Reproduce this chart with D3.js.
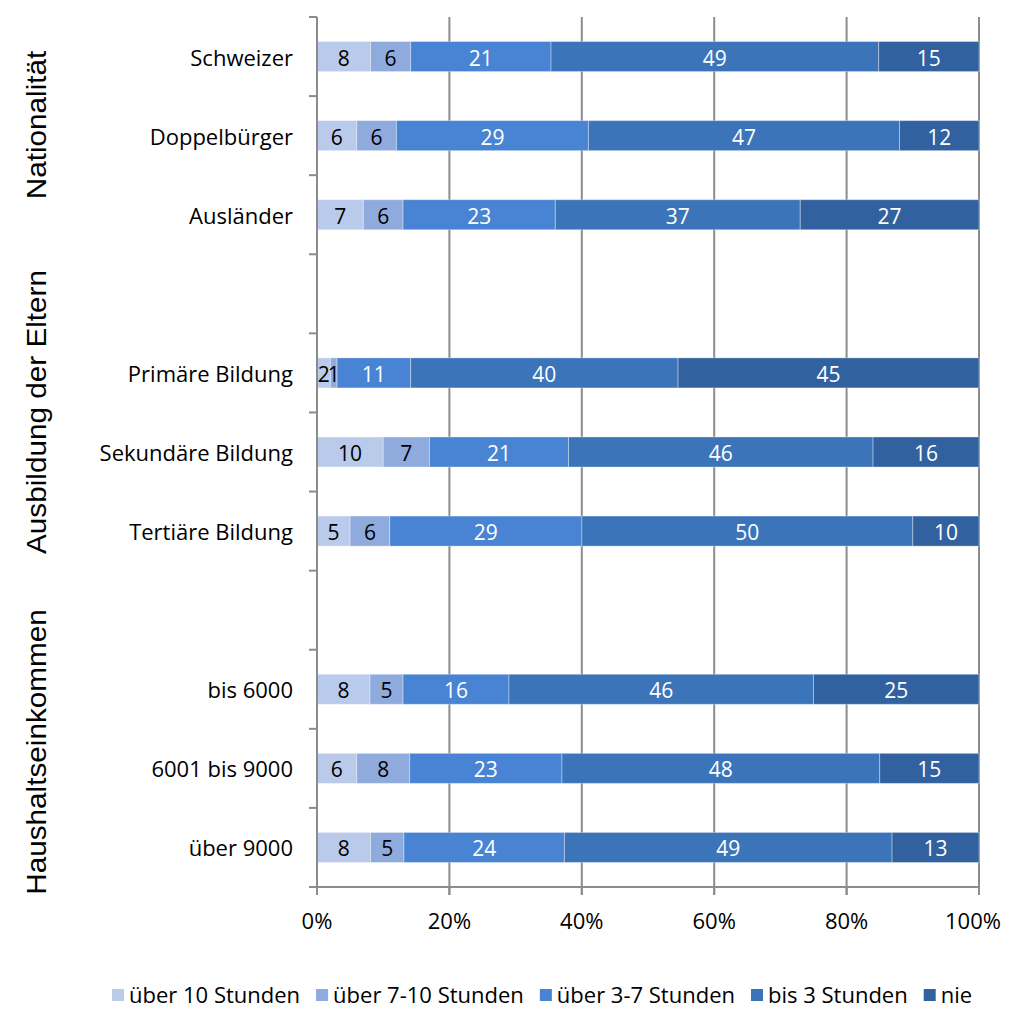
<!DOCTYPE html>
<html>
<head>
<meta charset="utf-8">
<script src="https://cdn.jsdelivr.net/npm/d3@7"></script>
<style>
  html, body { margin: 0; padding: 0; background: #fff; }
  svg { display: block; }
</style>
</head>
<body>
<svg id="chart" width="1009" height="1010"></svg>
<script>
// Row labels in drawing order; empty strings are spacer rows between groups
const categories = [
  "Schweizer", "Doppelbürger", "Ausländer", "",
  "Primäre Bildung", "Sekundäre Bildung", "Tertiäre Bildung", "",
  "bis 6000", "6001 bis 9000", "über 9000"
];

const seriesNames = ["über 10 Stunden", "über 7-10 Stunden", "über 3-7 Stunden", "bis 3 Stunden", "nie"];

// Percent shares per row, one array per series (null = spacer row)
const over10    = [8, 6, 7, null, 2, 10, 5, null, 8, 6, 8];
const over7to10 = [6, 6, 6, null, 1, 7, 6, null, 5, 8, 5];
const over3to7  = [21, 29, 23, null, 11, 21, 29, null, 16, 23, 24];
const upTo3     = [49, 47, 37, null, 40, 46, 50, null, 46, 48, 49];
const never     = [15, 12, 27, null, 45, 16, 10, null, 25, 15, 13];

const groupNames = ["Nationalität", "Ausbildung der Eltern", "Haushaltseinkommen"];
const xTicks = [0, 0.2, 0.4, 0.6, 0.8, 1];

const colors = ["#b9caea", "#8fabdd", "#4884d3", "#3c74ba", "#31619f"];
const labelColors = ["#000", "#000", "#fff", "#fff", "#fff"];

const series = [over10, over7to10, over3to7, upTo3, never];

const svg = d3.select("#chart");
const margin = { left: 317, right: 30, top: 17, bottom: 123 };
const W = 1009, H = 1010;

const x = d3.scaleLinear().domain([0, 1]).range([margin.left, W - margin.right]);
const y = d3.scaleBand().domain(d3.range(categories.length))
  .range([margin.top, H - margin.bottom]).paddingInner(0.62).paddingOuter(0.31);

const stepY = y.step();
const labelFont = "'Open Sans', Lato, sans-serif";
const labelSize = 22;
const valueSize = 21;

// vertical gridlines
svg.append("g").selectAll("line").data(xTicks.slice(1)).join("line")
  .attr("x1", d => x(d)).attr("x2", d => x(d))
  .attr("y1", margin.top).attr("y2", H - margin.bottom + 8)
  .attr("stroke", "#8c8c8c").attr("stroke-width", 2);

// stacked rows, normalised to 100 %
const rows = categories.map((c, i) => {
  const vals = series.map(s => s[i]);
  if (vals[0] === null) return null;
  const total = d3.sum(vals);
  let acc = 0;
  return vals.map((v, k) => {
    const seg = { row: i, k, v, x0: acc / total, x1: (acc + v) / total };
    acc += v;
    return seg;
  });
}).filter(r => r);

const segs = rows.flat();

svg.append("g").selectAll("rect").data(segs).join("rect")
  .attr("x", d => x(d.x0))
  .attr("width", d => x(d.x1) - x(d.x0))
  .attr("y", d => y(d.row))
  .attr("height", y.bandwidth())
  .attr("fill", d => colors[d.k])
  .attr("stroke", "rgba(255,255,255,0.35)")
  .attr("stroke-width", 1);

svg.append("g").selectAll("text").data(segs).join("text")
  .attr("x", d => (x(d.x0) + x(d.x1)) / 2)
  .attr("y", d => y(d.row) + y.bandwidth() / 2 + 1)
  .attr("text-anchor", "middle")
  .attr("dominant-baseline", "central")
  .attr("font-family", labelFont)
  .attr("font-size", valueSize)
  .attr("fill", d => labelColors[d.k])
  .text(d => d.v);

// left category axis
const axisColor = "#8c8c8c";
const yTop = margin.top, yBottom = H - margin.bottom;
svg.append("line").attr("x1", margin.left).attr("x2", margin.left)
  .attr("y1", yTop).attr("y2", yBottom).attr("stroke", axisColor).attr("stroke-width", 2);
svg.append("g").selectAll("line").data(d3.range(categories.length + 1)).join("line")
  .attr("x1", margin.left - 8).attr("x2", margin.left)
  .attr("y1", i => yTop + i * stepY).attr("y2", i => yTop + i * stepY)
  .attr("stroke", axisColor).attr("stroke-width", 2);

svg.append("g").selectAll("text").data(categories.map((c, i) => ({ c, i })).filter(d => d.c)).join("text")
  .attr("x", margin.left - 24)
  .attr("y", d => y(d.i) + y.bandwidth() / 2)
  .attr("text-anchor", "end")
  .attr("dominant-baseline", "central")
  .attr("font-family", labelFont)
  .attr("font-size", labelSize)
  .attr("fill", "#000")
  .text(d => d.c);

// bottom percentage axis
svg.append("line").attr("x1", margin.left - 8).attr("x2", x(1))
  .attr("y1", yBottom).attr("y2", yBottom).attr("stroke", axisColor).attr("stroke-width", 2);
svg.append("g").selectAll("line").data(xTicks).join("line")
  .attr("x1", d => x(d)).attr("x2", d => x(d))
  .attr("y1", yBottom).attr("y2", yBottom + 8)
  .attr("stroke", axisColor).attr("stroke-width", 2);
svg.append("g").selectAll("text").data(xTicks).join("text")
  .attr("x", d => x(d) - (d === 1 ? 6 : 0)).attr("y", yBottom + 33)
  .attr("text-anchor", "middle")
  .attr("dominant-baseline", "central")
  .attr("font-family", labelFont).attr("font-size", labelSize).attr("fill", "#000")
  .text(d3.format(".0%"));

// rotated group titles
const groupCenters = [125, 412, 752];
svg.append("g").selectAll("text").data(groupNames).join("text")
  .attr("transform", (d, i) => `translate(36,${groupCenters[i]}) rotate(-90) scale(1.1,1)`)
  .attr("text-anchor", "middle")
  .attr("dominant-baseline", "central")
  .attr("font-family", "'Liberation Sans', Arial, sans-serif")
  .attr("font-size", 27)
  .attr("fill", "#000")
  .text(d => d);

// legend
const legend = svg.append("g");
let lx = 112;
const ly = 994;
seriesNames.forEach((name, k) => {
  legend.append("rect").attr("x", lx).attr("y", ly - 5).attr("width", 12).attr("height", 12)
    .attr("fill", colors[k]);
  const t = legend.append("text").attr("x", lx + 17).attr("y", ly)
    .attr("dominant-baseline", "central")
    .attr("font-family", labelFont).attr("font-size", labelSize).attr("fill", "#000")
    .text(name);
  lx += 17 + t.node().getComputedTextLength() + 16;
});
</script>
</body>
</html>
